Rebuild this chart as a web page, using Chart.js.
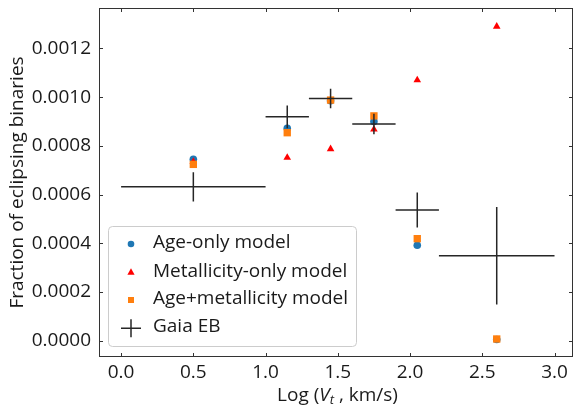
<!DOCTYPE html>
<html><head><meta charset="utf-8">
<script src="https://cdn.jsdelivr.net/npm/chart.js@4/dist/chart.umd.min.js"></script>
<style>html,body{margin:0;padding:0;background:#fff}#wrap{width:573px;height:406px}</style>
</head><body><div id="wrap"><canvas id="c" width="573" height="406"></canvas></div>
<script>
// ---- data ----
const xCats     = [0.5, 1.15, 1.45, 1.75, 2.05, 2.6];
const ageOnly   = [0.000745, 0.000872, 0.000985, 0.000900, 0.000392, 0.000005];
const metalOnly = [0.000735, 0.000752, 0.000787, 0.000868, 0.001070, 0.001290];
const ageMetal  = [0.000724, 0.000854, 0.000988, 0.000923, 0.000419, 0.000007];
const gaiaX     = [0.5, 1.15, 1.45, 1.75, 2.05, 2.6];
const gaiaY     = [0.000632, 0.000919, 0.000994, 0.000890, 0.000537, 0.000349];
const gaiaXLo   = [0.0, 1.0, 1.3, 1.6, 1.9, 2.2];
const gaiaXHi   = [1.0, 1.3, 1.6, 1.9, 2.2, 3.0];
const gaiaYErr  = [0.000060, 0.000047, 0.000040, 0.000042, 0.000072, 0.000200];
const xTicks    = [0.0, 0.5, 1.0, 1.5, 2.0, 2.5, 3.0];
const yTicks    = [0.0, 0.0002, 0.0004, 0.0006, 0.0008, 0.0010, 0.0012];
const seriesNames = ['Age-only model', 'Metallicity-only model', 'Age+metallicity model', 'Gaia EB'];

const FONT = "'Open Sans', 'Noto Sans', sans-serif";
const FS = 19;
const TXT = '#1a1a1a';
const AX = '#333333';

const pts = (xs, ys) => xs.map((x, i) => ({x, y: ys[i]}));

const frameTicks = {
  id: 'frameTicks',
  afterLayout(chart) {
    // stretch the plot area to the canvas's right edge
    const R = 573, xs = chart.scales.x, a = chart.chartArea;
    a.right = R; a.width = R - a.left;
    xs.right = R; xs.width = R - xs.left;
    xs.configure();
  },
  afterDatasetsDraw(chart) {
    const ctx = chart.ctx, xs = chart.scales.x, ys = chart.scales.y;
    ctx.save();
    ctx.strokeStyle = '#262626';
    ctx.lineWidth = 1.5;
    for (let i = 0; i < gaiaX.length; i++) {
      const y = ys.getPixelForValue(gaiaY[i]);
      const x = xs.getPixelForValue(gaiaX[i]);
      ctx.beginPath();
      ctx.moveTo(xs.getPixelForValue(gaiaXLo[i]), y);
      ctx.lineTo(xs.getPixelForValue(gaiaXHi[i]), y);
      ctx.moveTo(x, ys.getPixelForValue(gaiaY[i] - gaiaYErr[i]));
      ctx.lineTo(x, ys.getPixelForValue(gaiaY[i] + gaiaYErr[i]));
      ctx.stroke();
    }
    ctx.restore();
  },
  afterDraw(chart) {
    const ctx = chart.ctx, a = chart.chartArea, xs = chart.scales.x, ys = chart.scales.y;
    ctx.save();
    // frame
    ctx.strokeStyle = AX;
    ctx.lineWidth = 1;
    ctx.strokeRect(a.left + 0.5, a.top + 0.5, a.right - a.left - 1, a.bottom - a.top - 1);
    // inward ticks on all sides
    const L = 4;
    ctx.beginPath();
    xTicks.forEach(v => {
      const x = Math.round(xs.getPixelForValue(v)) + 0.5;
      ctx.moveTo(x, a.bottom); ctx.lineTo(x, a.bottom - L);
      ctx.moveTo(x, a.top); ctx.lineTo(x, a.top + L);
    });
    yTicks.forEach(v => {
      const y = Math.round(ys.getPixelForValue(v)) + 0.5;
      ctx.moveTo(a.left, y); ctx.lineTo(a.left + L, y);
      ctx.moveTo(a.right, y); ctx.lineTo(a.right - L, y);
    });
    ctx.stroke();

    // legend
    const lx = 108.5, ly = 226.5, lw = 248, lh = 120, r = 4;
    ctx.beginPath();
    ctx.moveTo(lx + r, ly);
    ctx.arcTo(lx + lw, ly, lx + lw, ly + lh, r);
    ctx.arcTo(lx + lw, ly + lh, lx, ly + lh, r);
    ctx.arcTo(lx, ly + lh, lx, ly, r);
    ctx.arcTo(lx, ly, lx + lw, ly, r);
    ctx.closePath();
    ctx.fillStyle = 'rgba(255,255,255,0.8)';
    ctx.fill();
    ctx.strokeStyle = '#cccccc';
    ctx.stroke();
    const rows = [243, 271.5, 299, 327];
    const mrows = [244, 272.3, 300, 328.3];
    const mx = 131;
    const ds = chart.data.datasets;
    ctx.fillStyle = ds[0].backgroundColor;
    ctx.beginPath(); ctx.arc(mx, mrows[0], 3.3, 0, Math.PI * 2); ctx.fill();
    ctx.fillStyle = ds[1].backgroundColor;
    ctx.beginPath();
    ctx.moveTo(mx, mrows[1] - 4); ctx.lineTo(mx + 3.6, mrows[1] + 2.4); ctx.lineTo(mx - 3.6, mrows[1] + 2.4);
    ctx.closePath(); ctx.fill();
    ctx.fillStyle = ds[2].backgroundColor;
    ctx.fillRect(mx - 3, mrows[2] - 3, 6, 6);
    ctx.strokeStyle = '#262626'; ctx.lineWidth = 1.5;
    ctx.beginPath();
    ctx.moveTo(mx - 10, mrows[3]); ctx.lineTo(mx + 10, mrows[3]);
    ctx.moveTo(mx, mrows[3] - 9); ctx.lineTo(mx, mrows[3] + 9);
    ctx.stroke();
    ctx.fillStyle = TXT;
    ctx.font = FS + 'px ' + FONT;
    ctx.textBaseline = 'middle';
    ctx.textAlign = 'left';
    seriesNames.forEach((t, i) => ctx.fillText(t, 153, rows[i]));

    // x-axis title with italic V and subscript t
    const parts = [
      {t: 'Log (', f: FS + 'px ' + FONT, dy: 0},
      {t: 'V', f: 'italic ' + FS + 'px ' + FONT, dy: 0},
      {t: 't', f: 'italic ' + Math.round(FS * 0.7) + 'px ' + FONT, dy: 3},
      {t: ' , km/s)', f: FS + 'px ' + FONT, dy: 0}
    ];
    let w = 0;
    parts.forEach(p => { ctx.font = p.f; p.w = ctx.measureText(p.t).width; w += p.w; });
    let x = 337.5 - w / 2;
    const base = 400.5;
    ctx.textBaseline = 'alphabetic';
    parts.forEach(p => { ctx.font = p.f; ctx.fillText(p.t, x, base + p.dy); x += p.w; });
    ctx.restore();
  }
};

const zeroPad = s => { s.paddingTop = 0; s.paddingBottom = 0; s.paddingLeft = 0; s.paddingRight = 0; };

new Chart(document.getElementById('c'), {
  type: 'scatter',
  data: {
    datasets: [
      {label: seriesNames[0], data: pts(xCats, ageOnly), backgroundColor: '#1f77b4', borderWidth: 0,
       pointStyle: 'circle', pointRadius: 3.8, order: 3},
      {label: seriesNames[1], data: pts(xCats, metalOnly), backgroundColor: '#ff0000', borderWidth: 0,
       pointStyle: 'triangle', pointRadius: 4.4, order: 2},
      {label: seriesNames[2], data: pts(xCats, ageMetal), backgroundColor: '#ff7f0e', borderWidth: 0,
       pointStyle: 'rect', pointRadius: 5.2, order: 1},
      {label: seriesNames[3], data: pts(gaiaX, gaiaY), backgroundColor: '#262626', borderColor: '#262626',
       pointStyle: 'cross', pointRadius: 0, order: 0}
    ]
  },
  options: {
    responsive: false,
    animation: false,
    devicePixelRatio: 1,
    layout: {padding: {top: 8, right: 0, left: 0, bottom: 0}},
    plugins: {legend: {display: false}, tooltip: {enabled: false}},
    scales: {
      x: {
        type: 'linear', min: -0.153, max: 3.128,
        afterBuildTicks: s => { s.ticks = xTicks.map(v => ({value: v})); },
        afterFit: s => { s.height = 49; zeroPad(s); },
        grid: {display: false, drawTicks: false},
        border: {display: false},
        ticks: {callback: v => v.toFixed(1), font: {family: FONT, size: FS}, color: TXT, padding: 4, maxRotation: 0}
      },
      y: {
        type: 'linear', min: -0.0000669, max: 0.001366,
        afterBuildTicks: s => { s.ticks = yTicks.map(v => ({value: v})); },
        afterFit: s => { s.width = 99; zeroPad(s); },
        grid: {display: false, drawTicks: false},
        border: {display: false},
        ticks: {callback: v => v.toFixed(4), font: {family: FONT, size: FS}, color: TXT, padding: 8},
        title: {display: true, text: 'Fraction of eclipsing binaries', font: {family: FONT, size: FS}, color: TXT,
                padding: {top: 6, bottom: 0}}
      }
    }
  },
  plugins: [frameTicks]
});
</script>
</body></html>
